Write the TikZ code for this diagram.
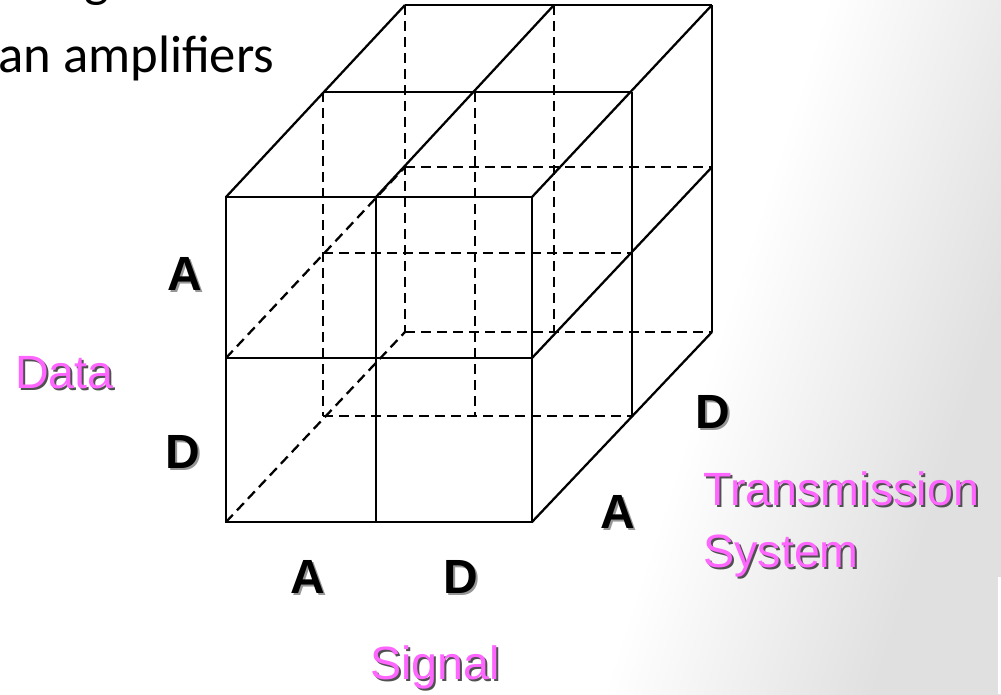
\documentclass[tikz,border=0pt]{standalone}
\usepackage{fontspec}
\usepackage{xcolor}
\usepackage{tikz}
\usetikzlibrary{positioning}
\newfontfamily\labelfont{Liberation Sans}
\newfontfamily\slidefont{Carlito}
\definecolor{axispink}{RGB}{255, 102, 255}
\definecolor{slidegray}{RGB}{224, 224, 224}
\definecolor{pinkshadow}{RGB}{80, 80, 80}
\definecolor{letshadow}{RGB}{150, 150, 150}
\pgfdeclarehorizontalshading{slidefade}{100bp}{color(0bp)=(white); color(61bp)=(white); color(75bp)=(slidegray); color(100bp)=(slidegray)}
% text with a small drop shadow
\newcommand{\shadowed}[2]{\rlap{\kern1.5pt\raisebox{-1.5pt}{\color{#1}#2}}#2}
\tikzset{
  edge/.style={line width=1.7pt},
  hidden/.style={line width=1.7pt, dash pattern=on 7.5pt off 4.5pt},
  letter/.style={inner sep=0pt, font=\labelfont\bfseries\fontsize{36}{42}\selectfont},
  axisname/.style={inner sep=0pt, text=axispink, font=\labelfont\fontsize{35}{42}\selectfont},
  slidetext/.style={inner sep=0pt, font=\slidefont\fontsize{39.5}{47}\selectfont}
}

\begin{document}
\begin{tikzpicture}[x=0.75pt, y=-0.75pt]
  % slide background, fading to grey on the right
  \useasboundingbox (0,0) rectangle (1001,694);
  \clip (0,0) rectangle (1001,694);
  \shade[shading=slidefade, shading angle=-18] (0,0) rectangle (1001,694);
  \fill[white] (998,577) rectangle (1001,694);

  % bits of the slide text
  \node[slidetext, anchor=base] (gtail) at (97,-4) {g};
  \node[slidetext, anchor=base west] (amps) at (-2,72) {an amplifiers};

  % front face
  \draw[edge] (226,197) rectangle (532,522);
  \draw[edge] (376,197) -- (376,522);
  \draw[edge] (226,358) -- (532,358);
  % top face
  \draw[edge] (405,5) -- (712,5);
  \draw[edge] (323,92) -- (632,92);
  \draw[edge] (226,197) -- (405,5);
  \draw[edge] (376,197) -- (554,5);
  \draw[edge] (532,197) -- (712,5);
  % right face
  \draw[edge] (632,92) -- (632,416);
  \draw[edge] (712,5) -- (712,332);
  \draw[edge] (532,358) -- (712,167);
  \draw[edge] (532,522) -- (712,332);
  % hidden edges, back and middle slices
  \draw[hidden] (405,5) -- (405,332);
  \draw[hidden] (554,5) -- (554,332);
  \draw[hidden] (405,167) -- (712,167);
  \draw[hidden] (405,332) -- (712,332);
  \draw[hidden] (323,92) -- (323,416);
  \draw[hidden] (475,92) -- (475,416);
  \draw[hidden] (323,253) -- (632,253);
  \draw[hidden] (323,416) -- (632,416);
  \draw[hidden] (226,358) -- (405,167);
  \draw[hidden] (226,522) -- (405,332);

  % A / D along each axis
  \node[letter] (dataA) at (185,275) {\shadowed{letshadow}{A}};
  \node[letter] (dataD) at (183,453) {\shadowed{letshadow}{D}};
  \node[letter] (sigA)  at (308,578) {\shadowed{letshadow}{A}};
  \node[letter] (sigD)  at (461,578) {\shadowed{letshadow}{D}};
  \node[letter] (sysA)  at (618,513) {\shadowed{letshadow}{A}};
  \node[letter] (sysD)  at (713,413) {\shadowed{letshadow}{D}};

  % axis names
  \node[axisname, anchor=base east] (data) at (114,388) {\shadowed{pinkshadow}{Data}};
  \node[axisname] (signal) at (435,668) {\shadowed{pinkshadow}{Signal}};
  \node[axisname, anchor=base west] (trans) at (703,505) {\shadowed{pinkshadow}{Transmission}};
  \node[axisname, anchor=base west] (sys) at (703,567) {\shadowed{pinkshadow}{System}};
\end{tikzpicture}
\end{document}
